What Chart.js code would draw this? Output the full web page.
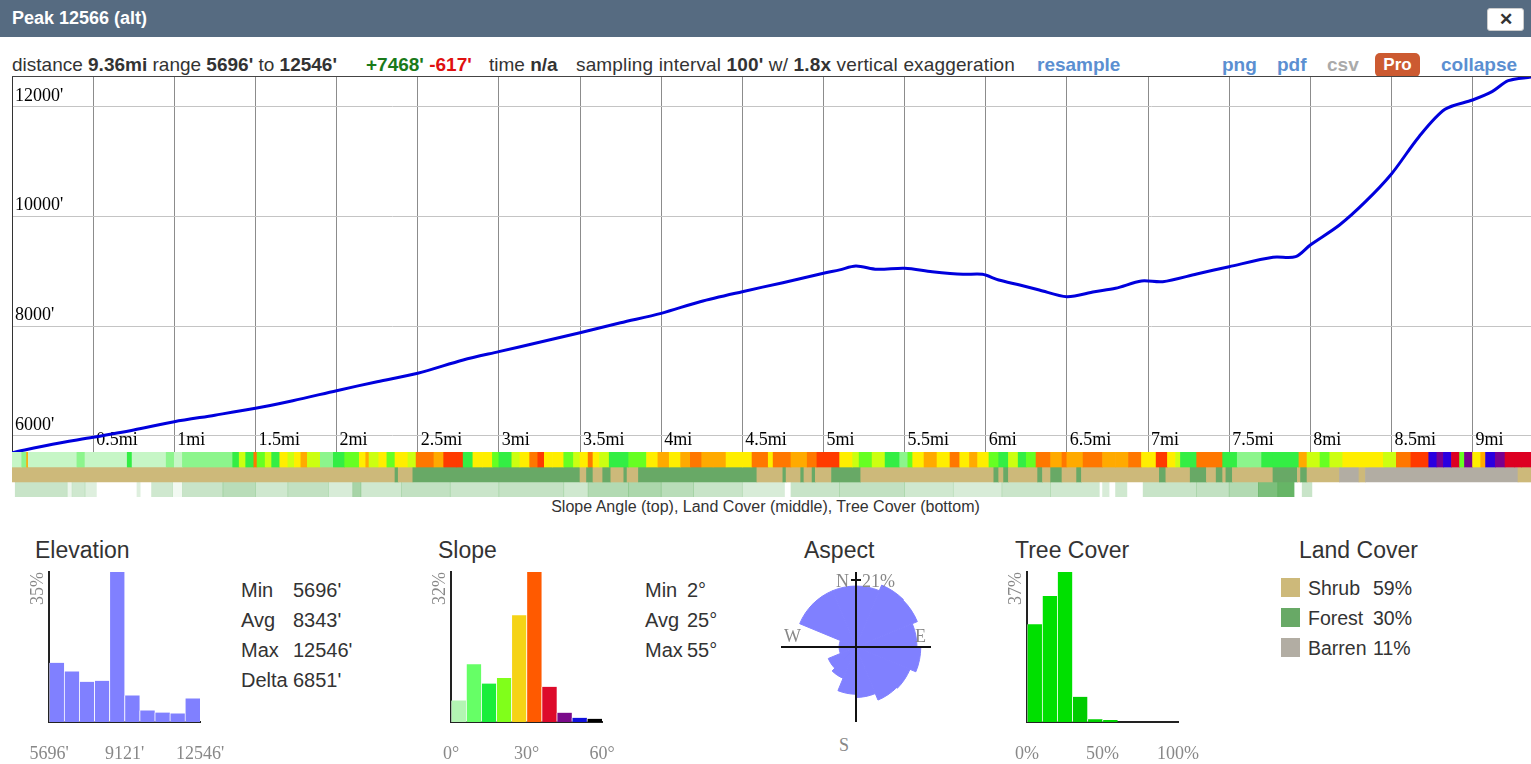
<!DOCTYPE html>
<html>
<head>
<meta charset="utf-8">
<script src="https://cdn.jsdelivr.net/npm/chart.js@4.4.1/dist/chart.umd.min.js"></script>
<style>
  body { margin: 0; width: 1531px; height: 764px; overflow: hidden; background: #fff;
         font-family: "Liberation Sans", Arial, sans-serif; color: #333; position: relative; }
  .abs { position: absolute; white-space: nowrap; }
  #titlebar { position: absolute; left: 0; top: 0; width: 1531px; height: 37px; background: #566b81; }
  #titlebar span { position: absolute; left: 12px; top: 0; line-height: 37px; font-size: 18px; font-weight: bold; color: #fff; }
  #closebtn { position: absolute; left: 1487px; top: 8px; width: 35px; height: 21px; background: #fff;
              border: 1px solid #ccc; border-radius: 3px; text-align: center; line-height: 21px;
              font-size: 17px; font-weight: bold; color: #333; }
  .hdr { top: 53px; line-height: 24px; font-size: 19px; color: #333; }
  .hdr b { color: #333; }
  .link { font-weight: bold; color: #5b8fd1; }
  #pro { left: 1375px; top: 53px; width: 45px; height: 24px; line-height: 24px; background: #cc5a31;
         border-radius: 5px; color: #fff; font-weight: bold; font-size: 17px; text-align: center; }
  canvas { position: absolute; }
  #profileBox { position: absolute; left: 12px; top: 76px; width: 1519px; height: 375px; border-top: 1px solid #444; }
  #caption { left: 0; width: 1531px; top: 498px; text-align: center; font-size: 16px; line-height: 18px; color: #333; }
  .ptitle { top: 536px; line-height: 28px; font-size: 23px; color: #333; }
  .stat { font-size: 20px; line-height: 30px; color: #333; }
  .compass { font-family: "Liberation Serif", serif; font-size: 18px; color: #888; line-height: 18px; }
  .sw { position: absolute; width: 19px; height: 19px; }
  .lc { font-size: 19.5px; line-height: 30px; color: #333; }
</style>
</head>
<body>
<div id="titlebar"><span>Peak 12566 (alt)</span><div id="closebtn">&#x2715;</div></div>

<div class="abs hdr" style="left:12px">distance <b>9.36mi</b> range <b>5696'</b> to <b>12546'</b></div>
<div class="abs hdr" style="left:366px"><b style="color:#1a7a1a">+7468'</b> <b style="color:#e01010">-617'</b></div>
<div class="abs hdr" style="left:489px">time <b>n/a</b></div>
<div class="abs hdr" style="left:576px;letter-spacing:0.15px">sampling interval <b>100'</b> w/ <b>1.8x</b> vertical exaggeration</div>
<div class="abs hdr link" style="left:1037px">resample</div>
<div class="abs hdr link" style="left:1222px">png</div>
<div class="abs hdr link" style="left:1277px">pdf</div>
<div class="abs hdr" style="left:1327px;font-weight:bold;color:#aaa">csv</div>
<div class="abs" id="pro">Pro</div>
<div class="abs hdr link" style="left:1441px">collapse</div>

<div id="profileBox"><canvas id="profile" width="1519" height="375" style="left:0;top:0"></canvas></div>
<canvas id="strips" width="1519" height="45" style="left:12px;top:452px"></canvas>
<div class="abs" id="caption">Slope Angle (top), Land Cover (middle), Tree Cover (bottom)</div>

<div class="abs ptitle" style="left:35px">Elevation</div>
<div class="abs ptitle" style="left:438px">Slope</div>
<div class="abs ptitle" style="left:804px">Aspect</div>
<div class="abs ptitle" style="left:1015px">Tree Cover</div>
<div class="abs ptitle" style="left:1299px">Land Cover</div>

<canvas id="elevHist" width="230" height="204" style="left:10px;top:560px"></canvas>
<canvas id="slopeHist" width="230" height="204" style="left:412px;top:560px"></canvas>
<canvas id="treeHist" width="230" height="204" style="left:988px;top:560px"></canvas>
<canvas id="aspect" width="150" height="150" style="left:781px;top:572px"></canvas>

<div class="abs stat" style="left:241px;top:575px">Min<br>Avg<br>Max<br>Delta</div>
<div class="abs stat" style="left:293px;top:575px">5696'<br>8343'<br>12546'<br>6851'</div>
<div class="abs stat" style="left:645px;top:575px">Min<br>Avg<br>Max</div>
<div class="abs stat" style="left:687px;top:575px">2°<br>25°<br>55°</div>

<div class="abs compass" style="left:836px;top:572px">N</div>
<div class="abs compass" style="left:862px;top:572px">21%</div>
<div class="abs compass" style="left:784px;top:627px">W</div>
<div class="abs compass" style="left:915px;top:627px">E</div>
<div class="abs compass" style="left:839px;top:736px">S</div>

<div class="sw" style="left:1281px;top:578px;background:#cdb97a"></div>
<div class="sw" style="left:1281px;top:608px;background:#68a966"></div>
<div class="sw" style="left:1281px;top:638px;background:#b2ada3"></div>
<div class="abs lc" style="left:1308px;top:573px">Shrub<br>Forest<br>Barren</div>
<div class="abs lc" style="left:1373px;top:573px">59%<br>30%<br>11%</div>

<script>
// elevation profile
const distMi = [0, 0.25, 0.5, 0.75, 1.0, 1.25, 1.5, 1.73, 2.0, 2.25, 2.5, 2.78, 3.0, 3.25, 3.5, 3.75, 4.0, 4.24, 4.5, 4.75,
  5.0, 5.1, 5.2, 5.33, 5.5, 5.67, 5.86, 5.98, 6.08, 6.21, 6.33, 6.5, 6.67, 6.8, 6.96, 7.09, 7.3, 7.5, 7.77, 7.91,
  8.0, 8.18, 8.34, 8.5, 8.67, 8.83, 9.0, 9.12, 9.22, 9.36];
const elevFt = [5696, 5850, 5976, 6110, 6261, 6380, 6505, 6644, 6826, 6990, 7143, 7386, 7538, 7709, 7884, 8066, 8237, 8449, 8632, 8796,
  8967, 9030, 9100, 9040, 9058, 8997, 8949, 8949, 8845, 8754, 8663, 8541, 8632, 8693, 8827, 8814, 8954, 9088, 9259, 9270,
  9483, 9848, 10273, 10778, 11458, 11957, 12128, 12280, 12480, 12546];
const totalMi = 9.36;
const xTickMi = [0.5, 1, 1.5, 2, 2.5, 3, 3.5, 4, 4.5, 5, 5.5, 6, 6.5, 7, 7.5, 8, 8.5, 9];
const yTickFt = [6000, 8000, 10000, 12000];

// strips: segment start (mi) + value
const slopeStart = [0,0.06,0.09,0.10,0.40,0.45,0.71,0.74,0.95,1.00,1.05,1.20,1.25,1.36,1.40,1.44,1.49,1.51,1.56,1.60,
  1.65,1.70,1.74,1.78,1.82,1.86,1.90,1.98,2.05,2.14,2.18,2.20,2.26,2.31,2.36,2.44,2.49,2.60,2.66,2.74,
  2.78,2.84,2.90,2.96,3.00,3.08,3.13,3.19,3.24,3.28,3.33,3.40,3.46,3.50,3.55,3.58,3.62,3.68,3.80,3.91,
  3.98,4.05,4.12,4.18,4.25,4.32,4.40,4.50,4.56,4.66,4.69,4.80,4.90,4.96,5.10,5.18,5.22,5.30,5.38,5.47,
  5.52,5.55,5.62,5.70,5.78,5.84,5.90,5.95,6.02,6.08,6.14,6.20,6.25,6.31,6.40,6.47,6.50,6.60,6.72,6.80,
  6.88,6.96,7.00,7.05,7.12,7.17,7.20,7.30,7.46,7.55,7.63,7.70,7.77,7.93,7.98,8.06,8.12,8.20,8.35,8.45,
  8.53,8.62,8.73,8.78,8.82,8.87,8.92,8.95,9.00,9.05,9.08,9.14,9.20,9.26,9.30];
const slopeDeg = [4,8,30,4,6,3,10,4,8,3,6,9,5,14,20,12,32,16,22,12,
  26,20,28,31,24,20,8,12,16,26,31,20,27,18,26,21,33,31,36,38,
  13,25,28,18,14,20,26,33,36,27,26,16,22,27,35,28,20,12,15,26,
  31,28,31,33,29,31,26,28,35,28,32,29,32,36,26,22,15,20,13,6,
  17,26,31,27,33,28,31,28,19,14,24,13,18,33,31,33,31,33,30,29,
  32,28,27,38,26,20,14,33,12,9,7,12,11,29,22,16,22,26,27,24,
  33,37,50,47,52,40,17,46,28,31,52,47,40,44,41];

const landStart = [0,2.36,2.38,2.47,3.50,3.54,3.58,3.64,3.69,3.77,3.79,3.86,4.59,4.75,4.77,4.86,4.88,4.93,4.95,5.05,
  5.23,6.05,6.08,6.11,6.14,6.32,6.35,6.40,6.47,6.56,6.59,7.07,7.11,7.26,7.36,7.42,7.46,7.48,7.52,7.77,
  7.92,7.94,7.98,8.18,8.30,8.34,9.28];
const landType = ['S','F','S','F','S','F','S','F','S','F','S','F','S','F','S','F','S','F','S','F',
  'S','F','S','F','S','F','S','F','S','F','S','F','S','F','S','F','S','F','S','F',
  'S','F','S','B','S','B','S'];

const treeStart = [0,0.02,0.34,0.37,0.45,0.52,0.77,0.79,0.86,0.99,1.05,1.30,1.50,1.70,1.95,2.10,2.15,2.40,2.70,3.00,
  3.40,3.55,3.80,4.00,4.20,4.50,4.76,4.80,5.10,5.50,5.80,6.10,6.40,6.70,6.72,6.76,6.80,6.87,6.97,7.30,
  7.50,7.68,7.80,7.90,7.95,8.01];
const treePct = [0,25,8,22,15,0,15,0,22,6,25,32,22,28,18,40,22,28,24,27,
  22,35,38,32,25,18,0,25,28,22,18,24,22,0,18,0,22,0,25,28,
  35,60,70,0,25,0];

// histograms (percent of samples)
const elevBins = [6039, 6724, 7409, 8094, 8779, 9464, 10149, 10834, 11519, 12204];
const elevPct = [13.8, 11.8, 9.4, 9.6, 35, 6.2, 2.7, 2.2, 2.0, 5.5];
const elevTicks = [5696, 9121, 12546];

const slopeBins = [3, 9, 15, 21, 27, 33, 39, 45, 51, 57];
const slopePct = [4.6, 12.3, 8.2, 9.4, 22.8, 32, 7.5, 2.0, 0.9, 0.7];
const slopeTicks = [0, 30, 60];

const treeBins = [5, 15, 25, 35, 45, 55, 65, 75, 85, 95];
const treeHistPct = [24.1, 31.1, 37, 6.2, 0.7, 0.5, 0, 0, 0, 0];
const treeTicks = [0, 50, 100];

const aspectDirs = ['N','NNE','NE','ENE','E','ESE','SE','SSE','S','SSW','SW','WSW','W','WNW','NW','NNW'];
const aspectPct = [19.1, 21, 20.8, 19.1, 20.3, 18.3, 18.0, 15.8, 14.8, 10.6, 9.4, 5.3, 5.3, 19.1, 19.1, 19.1];

// colours
const slopeLimits = [5, 10, 15, 20, 25, 29, 32, 36, 40, 45, 50];
const slopeShades = ['#c6f6c6','#8cf58c','#33ee44','#66ff22','#ccff11','#ffee00','#ffaa00','#ff7700','#ff3a00','#dd0022','#7a0090','#2a00e0'];
function slopeColor(d) {
  let i = 0;
  while (i < slopeLimits.length && d >= slopeLimits[i]) i++;
  return slopeShades[i];
}
const landColors = { S: '#cdb97a', F: '#68a966', B: '#b2ada3' };
const slopeHistColors = ['#b3f5b3','#66ff66','#1aee3a','#80ff1a','#f5d316','#ff5a00','#dd0a2a','#7a0a8a','#1010dd','#000000'];

const serif = '"Liberation Serif", "Times New Roman", serif';
Chart.defaults.font.family = '"Liberation Sans", Arial, sans-serif';

// main elevation profile
new Chart(document.getElementById('profile'), {
  type: 'line',
  data: {
    datasets: [{
      data: distMi.map((d, i) => ({ x: d, y: elevFt[i] })),
      borderColor: '#0000dd',
      borderWidth: 3,
      pointRadius: 0,
      tension: 0.3,
      fill: false,
    }],
  },
  options: {
    responsive: false,
    animation: false,
    events: [],
    layout: { padding: 0 },
    plugins: { legend: { display: false }, tooltip: { enabled: false } },
    scales: {
      x: {
        type: 'linear', min: 0, max: totalMi,
        afterBuildTicks: (s) => { s.ticks = xTickMi.map((v) => ({ value: v })); },
        afterFit: (s) => { s.height = 0; s.paddingLeft = 0; s.paddingRight = 0; },
        grid: { color: '#8c8c8c', drawTicks: false },
        border: { display: true, color: '#333' },
        ticks: {
          mirror: true, align: 'start', labelOffset: 3, padding: 1, autoSkip: false, maxRotation: 0,
          color: '#000', font: { family: serif, size: 18 },
          callback: (v) => v + 'mi',
        },
      },
      y: {
        min: 5708, max: 12547,
        afterBuildTicks: (s) => { s.ticks = yTickFt.map((v) => ({ value: v })); },
        afterFit: (s) => { s.width = 0; s.paddingTop = 0; s.paddingBottom = 0; },
        grid: { color: '#c4c4c4', drawTicks: false },
        border: { display: true, color: '#333' },
        ticks: {
          mirror: true, padding: 3, labelOffset: -11,
          color: '#000', font: { family: serif, size: 18 },
          callback: (v) => v + "'",
        },
      },
    },
  },
});

// slope / land cover / tree cover strips
function segments(starts, values, row) {
  return starts.map((s, i) => ({ x: [s, i + 1 < starts.length ? starts[i + 1] : totalMi], y: row, v: values[i] }));
}
new Chart(document.getElementById('strips'), {
  type: 'bar',
  data: {
    labels: ['slope', 'land', 'tree'],
    datasets: [
      { data: segments(slopeStart, slopeDeg, 'slope'), backgroundColor: (c) => c.raw ? slopeColor(c.raw.v) : '#fff' },
      { data: segments(landStart, landType, 'land'), backgroundColor: (c) => c.raw ? landColors[c.raw.v] : '#fff' },
      { data: segments(treeStart, treePct, 'tree'),
        backgroundColor: (c) => c.raw ? 'rgba(80,170,80,' + Math.min(1, c.raw.v / 80) + ')' : '#fff' },
    ],
  },
  options: {
    indexAxis: 'y',
    responsive: false,
    animation: false,
    events: [],
    layout: { padding: 0 },
    datasets: { bar: { grouped: false, barPercentage: 1, categoryPercentage: 1, borderWidth: 0 } },
    plugins: { legend: { display: false }, tooltip: { enabled: false } },
    scales: {
      x: { type: 'linear', min: 0, max: totalMi, display: false },
      y: { type: 'category', display: false },
    },
  },
});

// small histograms
function histogram(id, bins, values, colors, xMin, xMax, xTicks, unit, yMax) {
  new Chart(document.getElementById(id), {
    type: 'bar',
    data: {
      datasets: [{
        data: bins.map((b, i) => ({ x: b, y: values[i] })),
        backgroundColor: colors,
        borderColor: 'rgba(255,255,255,0.6)',
        borderWidth: { left: 1, right: 0, top: 0, bottom: 0 },
        barPercentage: 1,
        categoryPercentage: 1,
      }],
    },
    options: {
      responsive: false,
      animation: false,
      events: [],
      layout: { padding: { left: 0, top: 12, right: 40, bottom: 0 } },
      plugins: { legend: { display: false }, tooltip: { enabled: false } },
      scales: {
        x: {
          type: 'linear', min: xMin, max: xMax, offset: false,
          afterBuildTicks: (s) => { s.ticks = xTicks.map((v) => ({ value: v })); },
          afterFit: (s) => { s.height = 42; s.paddingLeft = 0; s.paddingRight = 0; },
          grid: { display: false, drawTicks: false, offset: false },
          border: { display: true, color: '#222', width: 2 },
          ticks: { padding: 21, autoSkip: false, maxRotation: 0, color: '#888', font: { family: serif, size: 18 },
                   callback: (v) => v + unit },
        },
        y: {
          min: 0, max: yMax,
          afterFit: (s) => { s.width = 39; s.paddingTop = 0; s.paddingBottom = 0; },
          grid: { display: false, drawTicks: false },
          border: { display: true, color: '#222', width: 2 },
          ticks: { display: false },
          title: { display: true, text: yMax + '%', align: 'end', padding: { top: 17 }, color: '#888',
                   font: { family: serif, size: 18 } },
        },
      },
    },
  });
}
histogram('elevHist', elevBins, elevPct, '#8080ff', 5696, 12546, elevTicks, "'", 35);
histogram('slopeHist', slopeBins, slopePct, slopeHistColors, 0, 60, slopeTicks, '°', 32);
histogram('treeHist', treeBins, treeHistPct, ['#00e000','#00e000','#00e000','#00cc00','#00d000','#00d000','#00d000','#00d000','#00d000','#00d000'], 0, 100, treeTicks, '%', 37);

// aspect rose with a cross through its centre
const crossLines = {
  id: 'crossLines',
  afterDatasetsDraw(chart) {
    const r = chart.scales.r;
    const ctx = chart.ctx;
    const top21 = r.yCenter - r.getDistanceFromCenterForValue(21);
    ctx.save();
    ctx.strokeStyle = '#111';
    ctx.lineWidth = 2;
    ctx.beginPath();
    ctx.moveTo(0, r.yCenter); ctx.lineTo(chart.width, r.yCenter);
    ctx.moveTo(r.xCenter, 0); ctx.lineTo(r.xCenter, chart.height);
    ctx.moveTo(r.xCenter - 5, top21); ctx.lineTo(r.xCenter + 5, top21);
    ctx.stroke();
    ctx.restore();
  },
};
new Chart(document.getElementById('aspect'), {
  type: 'polarArea',
  data: { labels: aspectDirs, datasets: [{ data: aspectPct, backgroundColor: '#8080ff', borderColor: '#8080ff', borderWidth: 1 }] },
  options: {
    responsive: false,
    animation: false,
    events: [],
    layout: { padding: 0 },
    plugins: { legend: { display: false }, tooltip: { enabled: false } },
    scales: {
      r: { min: 0, max: 23.5, ticks: { display: false }, grid: { display: false },
           angleLines: { display: false }, pointLabels: { display: false } },
    },
  },
  plugins: [crossLines],
});
</script>
</body>
</html>
